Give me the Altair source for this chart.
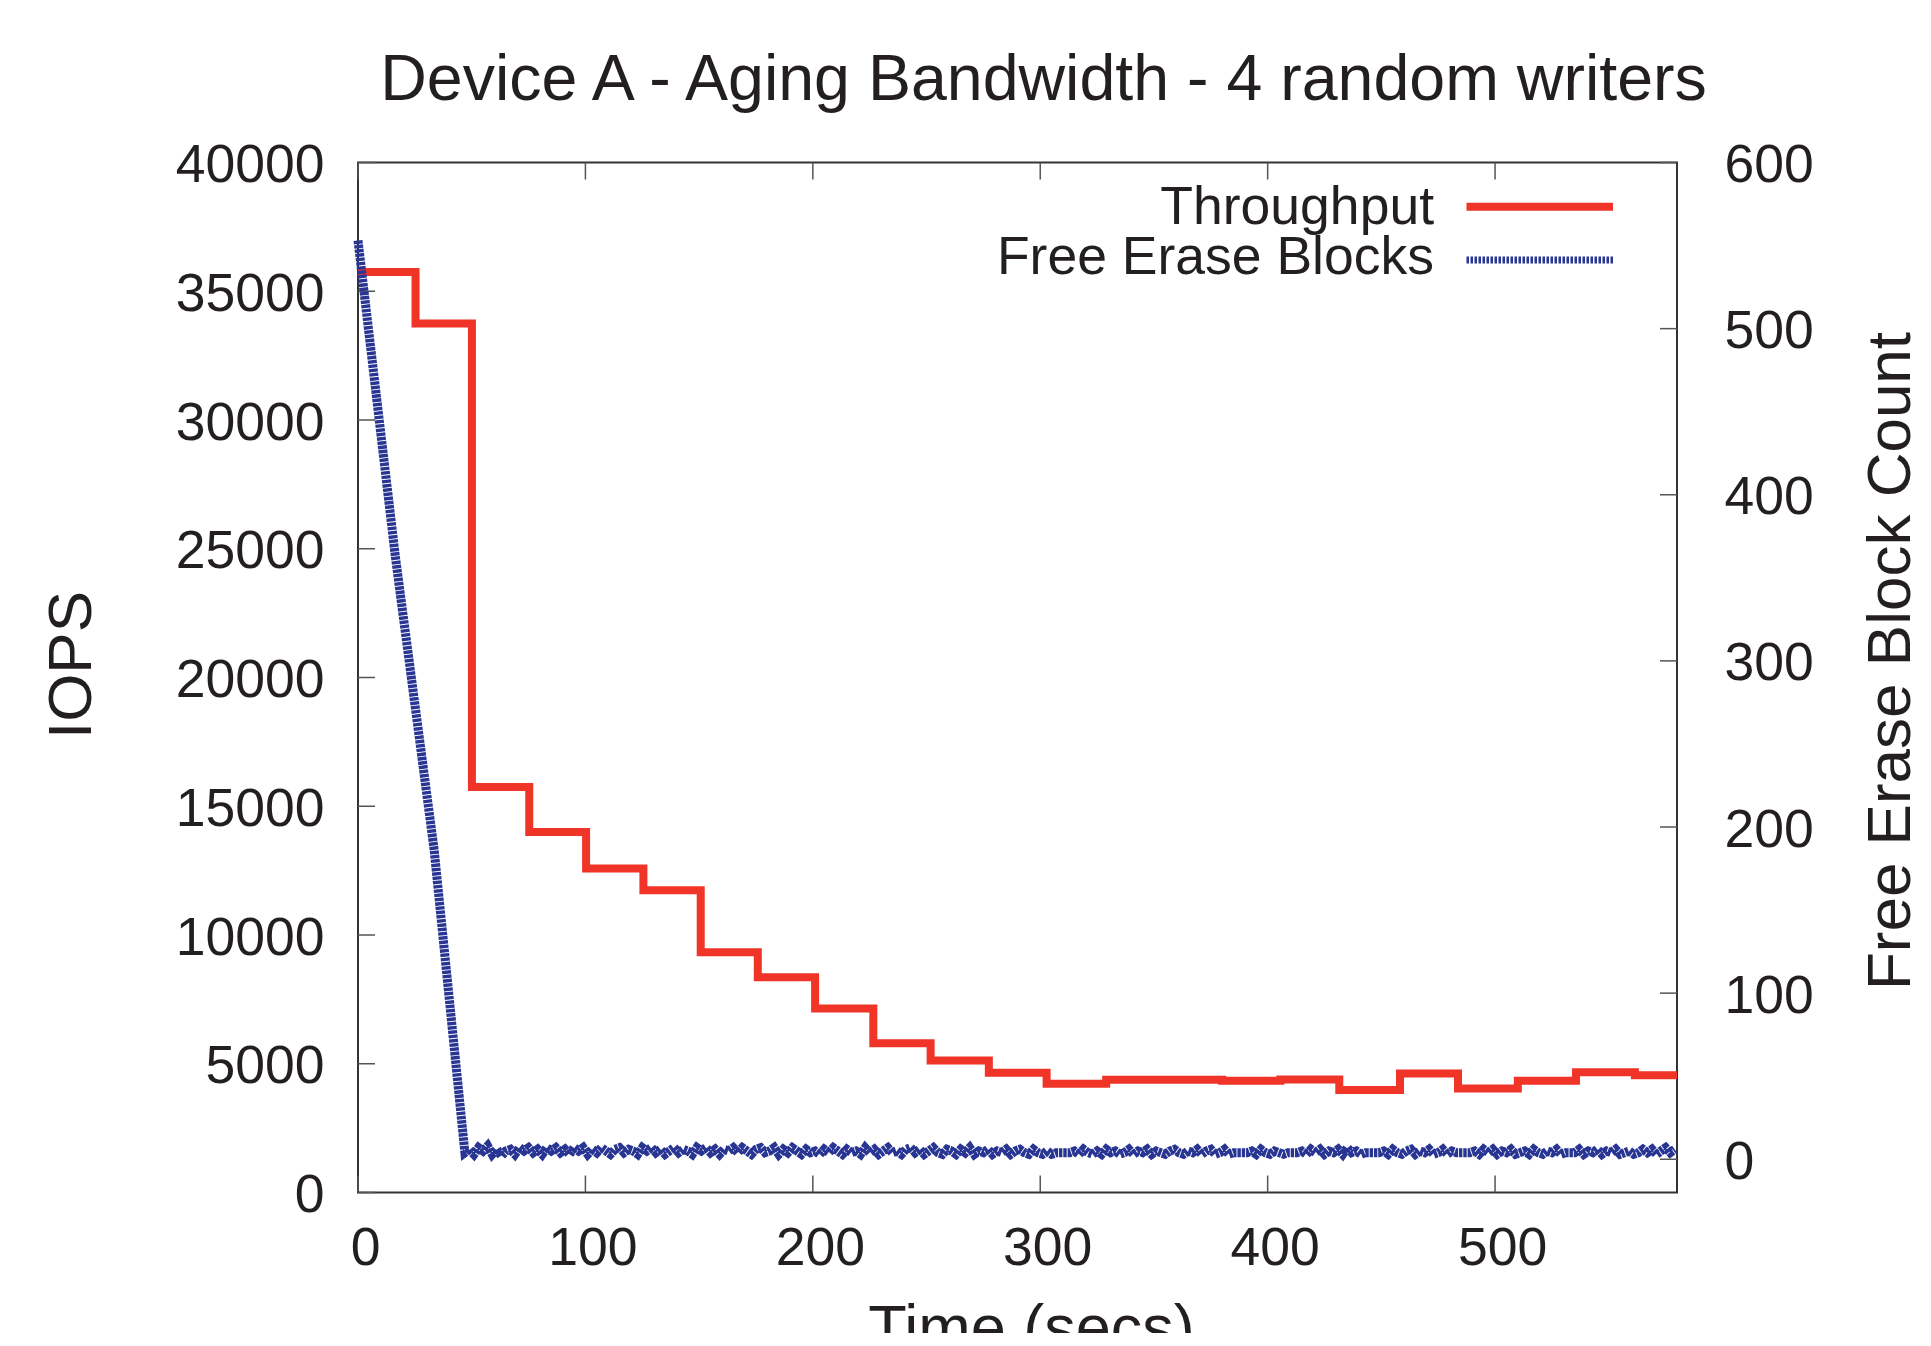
import altair as alt
import pandas as pd

# ---------------- data ----------------
# Throughput (IOPS), step-after series: start time of each step and its level
thr_t = [0, 25.3, 50.1, 75.3, 100.3, 125.5, 150.7, 175.8, 201.0, 226.6, 251.8,
         277.4, 302.8, 329.0, 354.0, 380.0, 405.6, 431.5, 458.2, 483.7, 510.0,
         535.6, 561.5, 580.0]
thr_iops = [35750, 33750, 15750, 14000, 12580, 11740, 9330, 8360, 7150, 5800, 5130,
            4650, 4220, 4380, 4380, 4340, 4390, 3980, 4620, 4040, 4340,
            4670, 4550, 4550]

# Free erase blocks (right axis)
free_t = [0, 16.5, 33.5,
          47, 49, 51, 53, 55, 57, 59, 61, 63, 65,
          67, 69, 71, 73, 75, 77, 79, 81, 83, 85,
          87, 89, 91, 93, 95, 97, 99, 101, 103, 105,
          107, 109, 111, 113, 115, 117, 119, 121, 123, 125,
          127, 129, 131, 133, 135, 137, 139, 141, 143, 145,
          147, 149, 151, 153, 155, 157, 159, 161, 163, 165,
          167, 169, 171, 173, 175, 177, 179, 181, 183, 185,
          187, 189, 191, 193, 195, 197, 199, 201, 203, 205,
          207, 209, 211, 213, 215, 217, 219, 221, 223, 225,
          227, 229, 231, 233, 235, 237, 239, 241, 243, 245,
          247, 249, 251, 253, 255, 257, 259, 261, 263, 265,
          267, 269, 271, 273, 275, 277, 279, 281, 283, 285,
          287, 289, 291, 293, 295, 297, 299, 301, 303, 305,
          307, 309, 311, 313, 315, 317, 319, 321, 323, 325,
          327, 329, 331, 333, 335, 337, 339, 341, 343, 345,
          347, 349, 351, 353, 355, 357, 359, 361, 363, 365,
          367, 369, 371, 373, 375, 377, 379, 381, 383, 385,
          387, 389, 391, 393, 395, 397, 399, 401, 403, 405,
          407, 409, 411, 413, 415, 417, 419, 421, 423, 425,
          427, 429, 431, 433, 435, 437, 439, 441, 443, 445,
          447, 449, 451, 453, 455, 457, 459, 461, 463, 465,
          467, 469, 471, 473, 475, 477, 479, 481, 483, 485,
          487, 489, 491, 493, 495, 497, 499, 501, 503, 505,
          507, 509, 511, 513, 515, 517, 519, 521, 523, 525,
          527, 529, 531, 533, 535, 537, 539, 541, 543, 545,
          547, 549, 551, 553, 555, 557, 559, 561, 563, 565,
          567, 569, 571, 573, 575, 577, 579]
free_blocks = [553, 362, 186,
               4, 6, 3, 7, 5, 8, 3, 6, 2, 5,
               6, 3, 7, 5, 7, 4, 6, 3, 7, 5,
               7, 4, 6, 3, 7, 5, 7, 3, 6, 4,
               7, 5, 3, 6, 7, 4, 6, 5, 3, 7,
               5, 7, 4, 6, 3, 5, 7, 4, 6, 5,
               3, 7, 5, 7, 4, 6, 3, 6, 5, 7,
               4, 7, 5, 3, 6, 7, 4, 5, 7, 3,
               6, 4, 7, 5, 3, 6, 4, 5, 3, 6,
               4, 7, 5, 3, 6, 4, 5, 3, 7, 4,
               6, 3, 5, 7, 4, 5, 3, 6, 7, 4,
               6, 3, 5, 7, 4, 3, 6, 5, 3, 6,
               4, 7, 3, 5, 4, 6, 3, 5, 4, 6,
               3, 5, 6, 4, 3, 6, 4, 3, 5, 3,
               4, 4, 4, 4, 5, 3, 6, 4, 3, 5,
               3, 6, 4, 5, 3, 4, 6, 3, 5, 4,
               6, 3, 5, 4, 3, 5, 6, 4, 3, 5,
               4, 6, 3, 5, 6, 3, 4, 6, 3, 4,
               4, 4, 4, 5, 3, 6, 4, 3, 5, 4,
               3, 4, 4, 4, 5, 3, 6, 4, 6, 3,
               5, 4, 6, 3, 7, 4, 5, 3, 4, 4,
               4, 4, 5, 3, 6, 4, 3, 5, 6, 3,
               5, 4, 6, 3, 4, 6, 3, 5, 4, 4,
               4, 4, 5, 3, 6, 4, 6, 3, 5, 4,
               6, 3, 4, 5, 3, 6, 4, 3, 5, 4,
               6, 3, 4, 4, 4, 6, 3, 5, 4, 6,
               3, 5, 4, 6, 3, 4, 5, 3, 4, 6,
               4, 6, 3, 5, 7, 4, 6]

x_ticks = [0, 100, 200, 300, 400, 500]
y_ticks = [0, 5000, 10000, 15000, 20000, 25000, 30000, 35000, 40000]
y2_ticks = [0, 100, 200, 300, 400, 500, 600]

legend_labels = ["Throughput", "Free Erase Blocks"]

# ---------------- styling ----------------
W, H = 1319, 1030
FONT = "Liberation Sans"
TXT = "#231F20"
RED = "#F03428"
BLUE = "#283593"
TICK = "#555555"
TICK_LEN = 17
DASH = [3.4, 0.9]
RED_W = 8
BLUE_W = 9
LABEL_FS = 53.5

thr_df = pd.DataFrame({"t": thr_t, "iops": thr_iops})
free_df = pd.DataFrame({"t": free_t, "blocks": free_blocks})
xt_df = pd.DataFrame({"t": x_ticks})
yt_df = pd.DataFrame({"iops": y_ticks})
y2t_df = pd.DataFrame({"blocks": y2_ticks})

xscale = alt.Scale(domain=[0, 580], nice=False, zero=False)
yscale = alt.Scale(domain=[0, 40000], nice=False)
y2scale = alt.Scale(domain=[-20, 600], nice=False, zero=False)

x_axis = alt.Axis(
    title="Time (secs)", values=x_ticks, format="d",
    labelFont=FONT, labelFontSize=LABEL_FS, labelColor=TXT, labelPadding=72,
    labelBaseline="alphabetic", labelOffset=7, labelFlush=False, labelOverlap=False,
    ticks=False, tickSize=0, domain=False, grid=False,
    titleFont=FONT, titleFontSize=63, titleFontWeight="normal", titleColor=TXT,
    titleX=673, titleY=156, titleAlign="center", titleBaseline="alphabetic",
)
y_axis = alt.Axis(
    title="IOPS", values=y_ticks, format="d", orient="left",
    labelFont=FONT, labelFontSize=LABEL_FS, labelColor=TXT, labelPadding=34,
    labelBaseline="alphabetic", labelOffset=19, labelFlush=False, labelOverlap=False,
    ticks=False, tickSize=0, domain=False, grid=False,
    titleFont=FONT, titleFontSize=62, titleFontWeight="normal", titleColor=TXT,
    titleAngle=270, titleX=-287, titleY=502, titleAlign="center", titleBaseline="middle",
)
y2_axis = alt.Axis(
    title="Free Erase Block Count", values=y2_ticks, format="d", orient="right",
    labelFont=FONT, labelFontSize=LABEL_FS, labelColor=TXT, labelPadding=47, labelAlign="left",
    labelBaseline="alphabetic", labelOffset=19, labelFlush=False, labelOverlap=False,
    ticks=False, tickSize=0, domain=False, grid=False,
    titleFont=FONT, titleFontSize=62, titleFontWeight="normal", titleColor=TXT,
    titleAngle=270, titleX=213, titleY=498, titleAlign="center", titleBaseline="middle",
)

# ---------------- left (IOPS) group ----------------
thr_line = alt.Chart(thr_df).mark_line(
    color=RED, strokeWidth=RED_W, interpolate="step-after", strokeJoin="miter"
).encode(
    x=alt.X("t:Q", scale=xscale, axis=x_axis),
    y=alt.Y("iops:Q", scale=yscale, axis=y_axis),
)

left_ticks = alt.Chart(yt_df).mark_rule(color=TICK, strokeWidth=1.5).encode(
    y=alt.Y("iops:Q", scale=yscale, axis=y_axis),
    x=alt.value(0), x2=alt.value(TICK_LEN),
)
bottom_ticks = alt.Chart(xt_df).mark_rule(color=TICK, strokeWidth=1.5).encode(
    x=alt.X("t:Q", scale=xscale, axis=x_axis),
    y=alt.value(H), y2=alt.value(H - TICK_LEN),
)
top_ticks = alt.Chart(xt_df).mark_rule(color=TICK, strokeWidth=1.5).encode(
    x=alt.X("t:Q", scale=xscale, axis=x_axis),
    y=alt.value(0), y2=alt.value(TICK_LEN),
)

leg_df1 = pd.DataFrame({"label": [legend_labels[0]]})
leg_df2 = pd.DataFrame({"label": [legend_labels[1]]})
leg_text1 = alt.Chart(leg_df1).mark_text(
    font=FONT, fontSize=53.5, color=TXT, align="right", baseline="alphabetic"
).encode(text="label:N", x=alt.value(1076), y=alt.value(61))
leg_text2 = alt.Chart(leg_df2).mark_text(
    font=FONT, fontSize=53.5, color=TXT, align="right", baseline="alphabetic"
).encode(text="label:N", x=alt.value(1076), y=alt.value(111))
leg_red = alt.Chart(leg_df1).mark_rule(color=RED, strokeWidth=RED_W).encode(
    x=alt.value(1108.5), x2=alt.value(1255), y=alt.value(44.3)
)
leg_blue = alt.Chart(leg_df2).mark_rule(color=BLUE, strokeWidth=7, strokeDash=[2.5, 1.5]).encode(
    x=alt.value(1108.5), x2=alt.value(1255), y=alt.value(97.5)
)

left = alt.layer(thr_line, left_ticks, bottom_ticks, top_ticks,
                 leg_text1, leg_text2, leg_red, leg_blue)

# ---------------- right (free blocks) group ----------------
free_line = alt.Chart(free_df).mark_line(
    color=BLUE, strokeWidth=BLUE_W, strokeDash=DASH
).encode(
    x=alt.X("t:Q", scale=xscale, axis=x_axis),
    y=alt.Y("blocks:Q", scale=y2scale, axis=y2_axis),
)
right_ticks = alt.Chart(y2t_df).mark_rule(color=TICK, strokeWidth=1.5).encode(
    y=alt.Y("blocks:Q", scale=y2scale, axis=y2_axis),
    x=alt.value(W), x2=alt.value(W - TICK_LEN),
)
right = alt.layer(free_line, right_ticks)

chart = alt.layer(left, right).resolve_scale(y="independent").properties(
    width=W, height=H,
    title=alt.TitleParams(
        "Device A - Aging Bandwidth - 4 random writers",
        font=FONT, fontSize=64.5, fontWeight="normal", color=TXT,
        anchor="middle", frame="group", dx=26, offset=25.5,
    ),
    autosize=alt.AutoSizeParams(type="none"),
    padding={"left": 350, "top": 154.5, "right": 245, "bottom": 140},
    background="white",
).configure_view(stroke="#333333", strokeWidth=2)

chart.save("out.html", embed_options={"renderer": "svg", "actions": False})
